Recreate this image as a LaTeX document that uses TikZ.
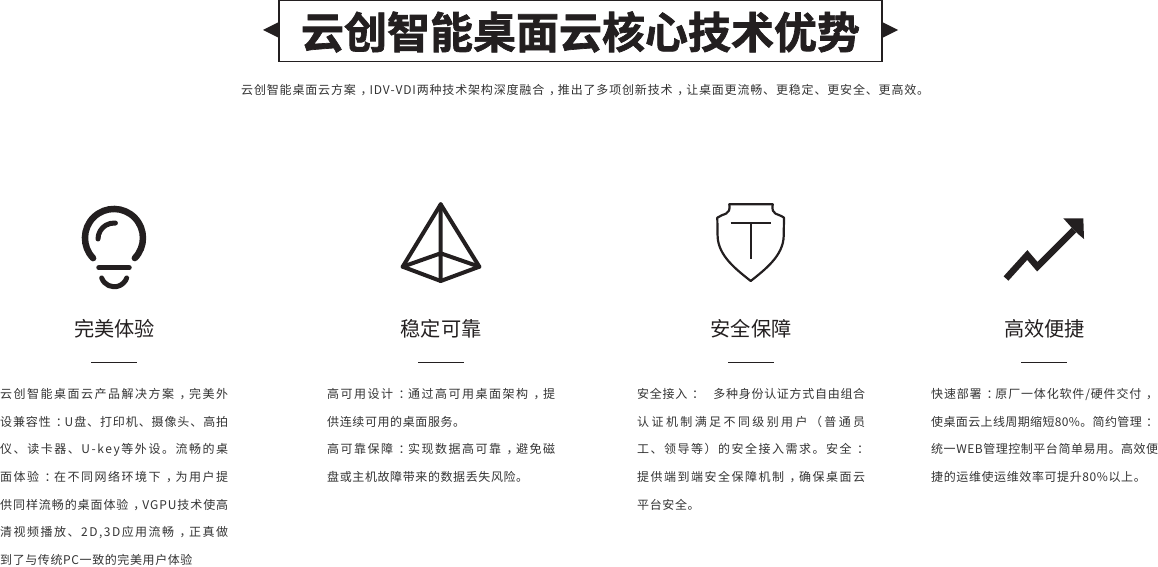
\documentclass[tikz,border=0pt]{standalone}
\usepackage{fontspec}
\newfontfamily\cjk{Noto Sans CJK SC}
\newfontfamily\cjktitle[FakeBold=1.6]{Noto Sans CJK SC Bold}
\definecolor{inkdark}{HTML}{231F20}
\definecolor{inkbody}{HTML}{333333}
\makeatletter
% spread a line over a given width, character by character
\def\fitline#1#2{\hbox to #1{\@tfor\fitc:=#2\do{\fitc\hfil}\unskip}}
\def\looseline#1{\hbox{\@tfor\fitc:=#1\do{\fitc\hskip0.6pt}}}
\makeatother
% centred comma and colon
\def\pc{\hbox to 12pt{\hskip4pt\rlap{，}\hss}}
\def\pk{\hbox to 12pt{\hskip4pt\rlap{：}\hss}}
\tikzset{
  bodyline/.style={anchor=base west,inner sep=0pt,text=inkbody,font=\cjk\fontsize{12}{12}\selectfont},
  headline/.style={inner sep=0pt,text=inkdark,font=\cjk\fontsize{20.2}{20.2}\selectfont},
  rulebar/.style={draw=inkdark,line width=1pt},
  iconthick/.style={draw=inkdark,line cap=round,line join=round},
}
\begin{document}
\begin{tikzpicture}[x=1pt,y=1pt]
\useasboundingbox (0,0) rectangle (1158,566);
%%
\node (title_box) at (580.5,535) [draw=inkdark,line width=1.2pt,minimum width=603pt,minimum height=61pt,inner sep=0pt] {};
\node (title) at (580.5,534) [inner sep=0pt,text=inkdark,font=\cjktitle\fontsize{43}{43}\selectfont] {云创智能桌面云核心技术优势};
\fill [inkdark] (263,536) -- (279,544) -- (279,528) -- cycle;
\fill [inkdark] (898,536) -- (882,544) -- (882,528) -- cycle;
\node (sub_title) at (241,471.7) [bodyline] {\fitline{688pt}{云创智能桌面云方案\pc IDV-VDI两种技术架构深度融合\pc 推出了多项创新技术\pc 让桌面更流畅、更稳定、更安全、更高效。}};
%% bulb
\draw [iconthick,line width=6.5pt] (93.1,307.9) arc (224:-44:29);
\draw [iconthick,line width=5pt] (98,327) arc (180:85:16);
\draw [iconthick,line width=5.5pt] (99,298.3) -- (129,298.3);
\draw [iconthick,line width=5pt] (101.7,288) arc (200:340:13.3);
%% pyramid
\coordinate (apex) at (440.7,361.7);
\coordinate (left) at (402.7,299.3);
\coordinate (right) at (479.3,299.3);
\coordinate (low) at (440.7,285);
\coordinate (mid) at (440.7,312.7);
\draw [iconthick,line width=4pt] (apex) -- (left) -- (low) -- (right) -- cycle;
\draw [iconthick,line width=4pt] (apex) -- (low) (left) -- (mid) -- (right);
%% shield
\draw [iconthick,line width=2.2pt] (729.3,361.7) -- (772.7,361.7) .. controls (771,350) and (778,353) .. (784,348.3)
  -- (783.7,330) .. controls (783.3,310) and (764.4,296) .. (750.7,285) .. controls (737,296) and (718,310) .. (717.6,330)
  -- (717.3,348.3) .. controls (723,353) and (731,350) .. (729.3,361.7) -- cycle;
\draw [draw=inkdark,line width=2pt] (730.7,343) -- (771,343) (751,343) -- (751,306.7);
%% arrow
\draw [draw=inkdark,line width=6.5pt,line join=miter] (1006,287.5) -- (1027.3,311) -- (1037.3,299.3) -- (1074,336);
\fill [inkdark] (1083.3,347.7) -- (1063.3,347.7) -- (1072,338) -- (1078,332) -- (1084,327) -- cycle;
%% first column
\node (head_a) at (114.5,237) [headline] {完美体验};
\draw [rulebar] (91,204) -- (137,204);
\node (a_1) at (0,167.7) [bodyline] {\fitline{228pt}{云创智能桌面云产品解决方案\pc 完美外}};
\node (a_2) at (0,140) [bodyline] {\fitline{228pt}{设兼容性\pk U盘、打印机、摄像头、高拍}};
\node (a_3) at (0,112.3) [bodyline] {\fitline{228pt}{仪、读卡器、U-key等外设。流畅的桌}};
\node (a_4) at (0,84.7) [bodyline] {\fitline{228pt}{面体验\pk 在不同网络环境下\pc 为用户提}};
\node (a_5) at (0,56.9) [bodyline] {\fitline{228pt}{供同样流畅的桌面体验\pc VGPU技术使高}};
\node (a_6) at (0,29.2) [bodyline] {\fitline{228pt}{清视频播放、2D,3D应用流畅\pc 正真做}};
\node (a_7) at (0,1.7) [bodyline] {\looseline{到了与传统PC一致的完美用户体验}};
%% second column
\node (head_b) at (441,237) [headline] {稳定可靠};
\draw [rulebar] (418,204) -- (464,204);
\node (b_1) at (327,167.7) [bodyline] {\fitline{228pt}{高可用设计\pk 通过高可用桌面架构\pc 提}};
\node (b_2) at (327,140) [bodyline] {\looseline{供连续可用的桌面服务。}};
\node (b_3) at (327,112.3) [bodyline] {\fitline{228pt}{高可靠保障\pk 实现数据高可靠\pc 避免磁}};
\node (b_4) at (327,84.7) [bodyline] {\looseline{盘或主机故障带来的数据丢失风险。}};
%% third column
\node (head_c) at (751,237) [headline] {安全保障};
\draw [rulebar] (728,204) -- (774,204);
\node (c_1) at (637,167.7) [bodyline] {\fitline{228pt}{安全接入\pk {\hspace*{12pt}}多种身份认证方式自由组合}};
\node (c_2) at (637,140) [bodyline] {\fitline{228pt}{认证机制满足不同级别用户（普通员}};
\node (c_3) at (637,112.3) [bodyline] {\fitline{228pt}{工、领导等）的安全接入需求。安全\pk}};
\node (c_4) at (637,84.7) [bodyline] {\fitline{228pt}{提供端到端安全保障机制\pc 确保桌面云}};
\node (c_5) at (637,56.9) [bodyline] {\looseline{平台安全。}};
%% fourth column
\node (head_d) at (1044.5,237) [headline] {高效便捷};
\draw [rulebar] (1021,204) -- (1067,204);
\node (d_1) at (931,167.7) [bodyline] {\fitline{223pt}{快速部署\pk 原厂一体化软件/硬件交付\pc}};
\node (d_2) at (931,140) [bodyline] {\fitline{223pt}{使桌面云上线周期缩短80\%。简约管理\pk}};
\node (d_3) at (931,112.3) [bodyline] {\fitline{227pt}{统一WEB管理控制平台简单易用。高效便}};
\node (d_4) at (931,84.7) [bodyline] {\looseline{捷的运维使运维效率可提升80\%以上。}};
%
\end{tikzpicture}
\end{document}
